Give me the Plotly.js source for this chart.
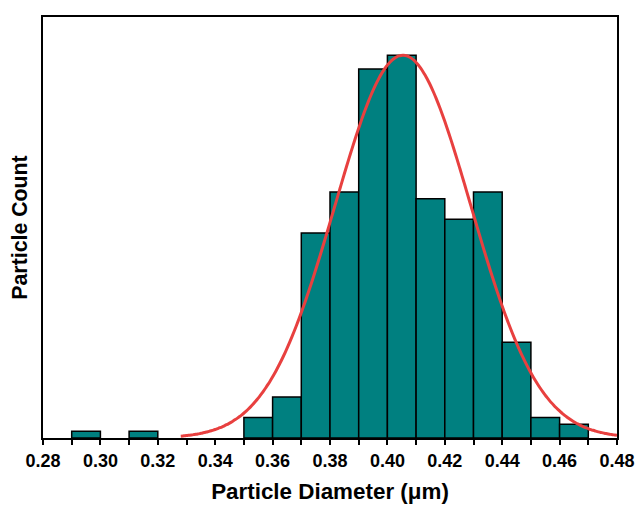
<!DOCTYPE html>
<html>
<head>
<meta charset="utf-8">
<script src="https://cdn.plot.ly/plotly-3.0.1.min.js"></script>
<style>html,body{margin:0;padding:0;background:#fff}#chart{width:637px;height:506px}</style>
</head>
<body>
<div id="chart"></div>
<script>
// Histogram bins (left edges, µm) and particle counts
const binStarts = [0.29, 0.31, 0.35, 0.36, 0.37, 0.38, 0.39, 0.40, 0.41, 0.42, 0.43, 0.44, 0.45, 0.46];
const counts    = [1,    1,    3,    6,    30,   36,   54,   56,   35,   32,   36,   14,   3,    2];
const binWidth = 0.01;

// Gaussian fit parameters
const fitMean = 0.4054;
const fitSigma = 0.0237;
const fitPeak = 56;
const fitStart = 0.328;
const fitEnd = 0.48;

const tickVals = [0.28, 0.30, 0.32, 0.34, 0.36, 0.38, 0.40, 0.42, 0.44, 0.46, 0.48];
const tickText = ['0.28','0.30','0.32','0.34','0.36','0.38','0.40','0.42','0.44','0.46','0.48'];

const centers = binStarts.map(s => s + binWidth / 2);
const fitX = [], fitY = [];
const nPts = 200;
for (let i = 0; i <= nPts; i++) {
  const x = fitStart + (fitEnd - fitStart) * i / nPts;
  fitX.push(x);
  fitY.push(fitPeak * Math.exp(-Math.pow(x - fitMean, 2) / (2 * fitSigma * fitSigma)));
}

const traces = [
  {
    type: 'bar', x: centers, y: counts, width: binWidth,
    marker: {color: '#008080', line: {color: '#000', width: 1.5}},
    hoverinfo: 'x+y', showlegend: false
  },
  {
    type: 'scatter', mode: 'lines', x: fitX, y: fitY,
    line: {color: '#e8403f', width: 3, shape: 'spline'},
    showlegend: false
  }
];

const layout = {
  width: 637, height: 506,
  margin: {l: 43, r: 20, t: 17, b: 68},
  paper_bgcolor: '#fff', plot_bgcolor: '#fff',
  font: {family: 'Liberation Sans, Arial, sans-serif', color: '#000'},
  bargap: 0,
  xaxis: {
    range: [0.28, 0.48],
    tickvals: tickVals, ticktext: tickText.map(t => '<b>' + t + '</b>'),
    ticks: 'outside', ticklen: 5, tickwidth: 2, tickcolor: '#000',
    minor: {dtick: 0.01, tick0: 0.28, ticks: 'outside', ticklen: 5, tickwidth: 2, tickcolor: '#000'},
    showline: true, linecolor: '#000', linewidth: 2, mirror: true,
    showgrid: false, zeroline: false,
    tickfont: {size: 18, family: 'Liberation Sans, Arial, sans-serif'},
    title: {text: '<b>Particle Diameter (μm)</b>', font: {size: 22.4}, standoff: 14}
  },
  yaxis: {
    range: [0, 61.6],
    showticklabels: false, ticks: '',
    showline: true, linecolor: '#000', linewidth: 2, mirror: true,
    showgrid: false, zeroline: false,
    title: {text: '<b>Particle Count</b>', font: {size: 21.3}, standoff: 8}
  }
};

Plotly.newPlot('chart', traces, layout, {displayModeBar: false, staticPlot: true});
</script>
</body>
</html>
